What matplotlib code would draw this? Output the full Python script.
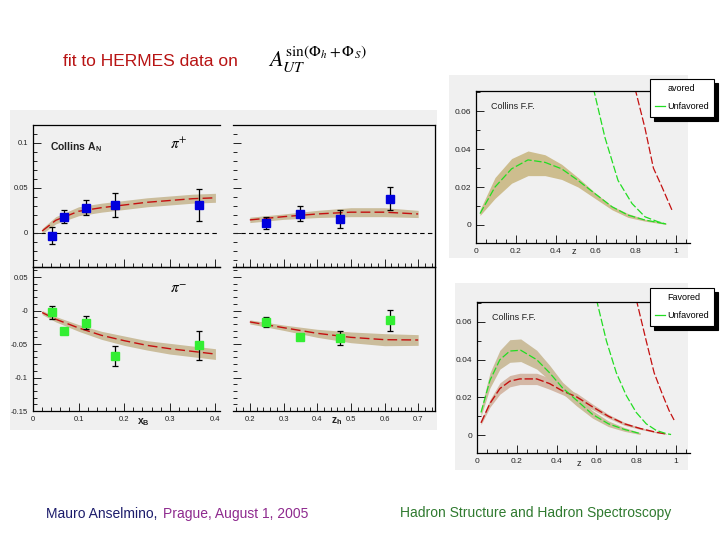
import matplotlib
matplotlib.use("Agg")
import matplotlib.pyplot as plt
from matplotlib.patches import Rectangle
from matplotlib.lines import Line2D
from matplotlib.ticker import MultipleLocator, FuncFormatter
import numpy as np

plt.rcParams['font.family'] = ['Liberation Sans', 'DejaVu Sans']
plt.rcParams['mathtext.fontset'] = 'stix'
plt.rcParams['axes.unicode_minus'] = False

# HERMES data points, vs x_B and z_h
xb = [0.041, 0.069, 0.117, 0.18, 0.365]
zh = [0.248, 0.349, 0.467, 0.617]
pip_xb = [-0.003, 0.018, 0.028, 0.031, 0.031]
pip_xb_err = [0.009, 0.007, 0.008, 0.013, 0.018]
pip_zh = [0.011, 0.0215, 0.015, 0.038]
pip_zh_err = [0.007, 0.008, 0.010, 0.013]
pim_xb = [-0.0025, -0.030, -0.018, -0.068, -0.052]
pim_xb_err = [0.010, 0.003, 0.010, 0.015, 0.022]
pim_zh = [-0.017, -0.039, -0.041, -0.0145]
pim_zh_err = [0.007, 0.003, 0.011, 0.016]

# fits
fit_x = [0.02, 0.05, 0.1, 0.15, 0.2, 0.25, 0.3, 0.35, 0.4]
fit_pip_x = [0.002, 0.014, 0.024, 0.028, 0.031, 0.034, 0.036, 0.038, 0.039]
band_pip_x = [0.003, 0.004, 0.005, 0.005, 0.005, 0.005, 0.005, 0.005, 0.005]
fit_pim_x = [-0.003, -0.013, -0.026, -0.037, -0.045, -0.052, -0.057, -0.061, -0.065]
band_pim_x = [0.003, 0.004, 0.005, 0.006, 0.007, 0.007, 0.008, 0.008, 0.008]
fit_z = [0.2, 0.3, 0.4, 0.5, 0.6, 0.7]
fit_pip_z = [0.0144, 0.018, 0.021, 0.023, 0.023, 0.021]
band_pip_z = [0.003, 0.003, 0.004, 0.005, 0.005, 0.004]
fit_pim_z = [-0.017, -0.0256, -0.034, -0.040, -0.0435, -0.044]
band_pim_z = [0.003, 0.004, 0.006, 0.008, 0.009, 0.008]

# Collins fragmentation functions, upper plot
ffu_z = [0.02, 0.095, 0.178, 0.26, 0.345, 0.428, 0.51, 0.595, 0.68, 0.76, 0.845, 0.95]
ffu_unf = [0.006, 0.020, 0.0296, 0.0343, 0.033, 0.0296, 0.0235, 0.0165, 0.0096, 0.0052, 0.0026, 0.0005]
ffu_unf_hi = [0.008, 0.025, 0.035, 0.039, 0.037, 0.032, 0.025, 0.017, 0.010, 0.006, 0.003, 0.001]
ffu_unf_lo = [0.005, 0.014, 0.022, 0.026, 0.026, 0.024, 0.020, 0.014, 0.008, 0.004, 0.002, 0.0003]
bndu_unf_z = [0.587, 0.645, 0.71, 0.78, 0.845, 0.91, 0.95]
bndu_unf = [0.072, 0.046, 0.0235, 0.0113, 0.0043, 0.0017, 0.0005]
bndu_fav_z = [0.795, 0.845, 0.887, 0.93, 0.98]
bndu_fav = [0.072, 0.051, 0.030, 0.020, 0.0078]

# lower plot
ffl_z = [0.02, 0.065, 0.115, 0.165, 0.22, 0.30, 0.365, 0.43, 0.50, 0.58, 0.66, 0.74, 0.82]
ffl_unf = [0.012, 0.029, 0.040, 0.0446, 0.045, 0.040, 0.033, 0.025, 0.0185, 0.011, 0.006, 0.003, 0.0008]
ffl_unf_err = [0.002, 0.004, 0.005, 0.006, 0.006, 0.005, 0.004, 0.003, 0.003, 0.002, 0.0015, 0.001, 0.0005]
ffl_fav_z = [0.02, 0.065, 0.115, 0.165, 0.215, 0.30, 0.365, 0.43, 0.50, 0.58, 0.66, 0.74, 0.82, 0.90, 0.95]
ffl_fav = [0.0065, 0.0168, 0.0247, 0.0286, 0.0298, 0.0298, 0.0273, 0.0234, 0.0203, 0.015, 0.010, 0.006, 0.0035, 0.0015, 0.0006]
ffl_fav_err = [0.001, 0.002, 0.003, 0.003, 0.003, 0.003, 0.003, 0.002, 0.002, 0.0015, 0.001, 0.0008, 0.0005, 0.0003, 0.0002]
bndl_unf_z = [0.60, 0.65, 0.70, 0.75, 0.80, 0.85, 0.90, 0.95, 0.975]
bndl_unf = [0.072, 0.050, 0.033, 0.021, 0.012, 0.006, 0.0025, 0.0008, 0.0003]
bndl_fav_z = [0.80, 0.85, 0.89, 0.93, 0.965, 0.99]
bndl_fav = [0.072, 0.050, 0.033, 0.022, 0.013, 0.008]

bot_yticks = [-0.15, -0.1, -0.05, 0, 0.05]
bot_ylabels = ['-0.15', '-0.1', '-0.05', '-0', '0.05']

W, H = 720, 540
BAND = '#cbbd9c'
RED = '#c41010'
GREEN = '#22dd22'
BG = '#f0f0f0'


def rect(x0, y0, x1, y1):
    return [x0 / W, 1 - y1 / H, (x1 - x0) / W, (y1 - y0) / H]


fmt = FuncFormatter(lambda v, p: '%g' % round(v, 4))

fig = plt.figure(figsize=(7.2, 5.4), dpi=100)
fig.patch.set_facecolor('white')
for r in [rect(10, 110, 437, 430), rect(449, 75, 688, 258), rect(455, 283, 688, 470)]:
    fig.patches.append(Rectangle((r[0], r[1]), r[2], r[3], transform=fig.transFigure,
                                 facecolor=BG, edgecolor='none', zorder=-10))


def style(ax):
    ax.set_zorder(1)
    ax.patch.set_alpha(0)
    ax.tick_params(which='both', direction='in', labelsize=5.5, colors='#222222', width=0.7)
    ax.tick_params(which='major', length=6)
    ax.tick_params(which='minor', length=3)
    for s in ax.spines.values():
        s.set_linewidth(0.9)


ax_tl = fig.add_axes(rect(33, 125, 220, 267))
ax_tr = fig.add_axes(rect(233, 125, 435, 267))
ax_bl = fig.add_axes(rect(33, 267, 220, 411))
ax_br = fig.add_axes(rect(233, 267, 435, 411))

panels = [
    (ax_tl, fit_x, fit_pip_x, band_pip_x, xb, pip_xb, pip_xb_err, '#0000dd'),
    (ax_tr, fit_z, fit_pip_z, band_pip_z, zh, pip_zh, pip_zh_err, '#0000dd'),
    (ax_bl, fit_x, fit_pim_x, band_pim_x, xb, pim_xb, pim_xb_err, '#33ee33'),
    (ax_br, fit_z, fit_pim_z, band_pim_z, zh, pim_zh, pim_zh_err, '#33ee33'),
]
for ax, fx, fy, fb, px, py, pe, col in panels:
    style(ax)
    fx = np.array(fx); fy = np.array(fy); fb = np.array(fb)
    ax.fill_between(fx, fy - fb, fy + fb, color=BAND, lw=0, zorder=1)
    ax.plot(fx, fy, color=RED, lw=1.0, dashes=(7, 3), zorder=2)
    ax.errorbar(px, py, yerr=pe, fmt='s', color=col, ms=5.5, mec=col,
                ecolor='black', elinewidth=0.9, capsize=2, capthick=0.9, zorder=3)
    ax.spines['right'].set_visible(False)

for ax in (ax_tl, ax_bl):
    ax.set_xlim(0, 0.41)
    ax.xaxis.set_major_locator(MultipleLocator(0.1))
    ax.xaxis.set_minor_locator(MultipleLocator(0.02))
for ax in (ax_tr, ax_br):
    ax.set_xlim(0.15, 0.75)
    ax.xaxis.set_major_locator(MultipleLocator(0.1))
    ax.xaxis.set_minor_locator(MultipleLocator(0.02))
    ax.spines['left'].set_visible(False)
    ax.spines['right'].set_visible(True)
for ax in (ax_tl, ax_tr):
    ax.set_ylim(-0.038, 0.12)
    ax.yaxis.set_major_locator(MultipleLocator(0.05))
    ax.yaxis.set_minor_locator(MultipleLocator(0.01))
    ax.axhline(0, color='black', lw=0.8, ls=(0, (4, 3)), zorder=1.5)
    ax.tick_params(labelbottom=False)
for ax in (ax_bl, ax_br):
    ax.set_ylim(-0.15, 0.065)
    ax.set_yticks(bot_yticks)
    ax.yaxis.set_minor_locator(MultipleLocator(0.01))
    ax.xaxis.set_major_formatter(fmt)
ax_tl.yaxis.set_major_formatter(fmt)
ax_bl.set_yticklabels(bot_ylabels)
ax_tr.tick_params(labelleft=False)
ax_br.tick_params(labelleft=False)

ax_tl.text(0.09, 0.82, r'Collins A$_\mathregular{N}$', transform=ax_tl.transAxes,
           fontsize=7.5, fontweight='bold', color='#222222')
ax_tl.text(0.73, 0.83, r'$\pi^{+}$', transform=ax_tl.transAxes, fontsize=11)
ax_bl.text(0.73, 0.82, r'$\pi^{-}$', transform=ax_bl.transAxes, fontsize=11)
fig.text(143 / W, 1 - 422 / H, r'x$_\mathregular{B}$', fontsize=7.5, fontweight='bold',
         ha='center', va='center', color='#222222')
fig.text(337 / W, 1 - 421 / H, r'z$_\mathregular{h}$', fontsize=7.5, fontweight='bold',
         ha='center', va='center', color='#222222')

# fragmentation function plots
ff_u = fig.add_axes(rect(476, 91, 690, 243))
ff_l = fig.add_axes(rect(477, 302, 690, 453))
for ax in (ff_u, ff_l):
    style(ax)
    ax.set_xlim(0, 1.07)
    ax.set_ylim(-0.0095, 0.0706)
    ax.xaxis.set_major_locator(MultipleLocator(0.2))
    ax.xaxis.set_minor_locator(MultipleLocator(0.05))
    ax.yaxis.set_major_locator(MultipleLocator(0.02))
    ax.yaxis.set_minor_locator(MultipleLocator(0.01))
    ax.xaxis.set_major_formatter(fmt)
    ax.yaxis.set_major_formatter(fmt)
    ax.tick_params(labelsize=6)
    ax.spines['right'].set_visible(False)
    ax.text(0.07, 0.88, 'Collins F.F.', transform=ax.transAxes, fontsize=6.5, color='#222222')

ff_u.fill_between(ffu_z, ffu_unf_lo, ffu_unf_hi, color='#cdbd8e', lw=0, zorder=1)
ff_u.plot(ffu_z, ffu_unf, color=GREEN, lw=0.9, dashes=(6, 2), zorder=2)
ff_u.plot(bndu_unf_z, bndu_unf, color=GREEN, lw=0.9, dashes=(6, 2), zorder=2)
ff_u.plot(bndu_fav_z, bndu_fav, color=RED, lw=0.9, dashes=(6, 2), zorder=2)
fig.text(574 / W, 1 - 252 / H, 'z', fontsize=6.5, ha='center', va='center', color='#222222')

uf = np.array(ffl_unf); ue = np.array(ffl_unf_err)
fv = np.array(ffl_fav); fe = np.array(ffl_fav_err)
ff_l.fill_between(ffl_fav_z, fv - fe, fv + fe, color='#d4b8a6', lw=0, zorder=1)
ff_l.fill_between(ffl_z, uf - ue, uf + ue, color=BAND, lw=0, zorder=1.2)
ff_l.plot(ffl_fav_z, ffl_fav, color=RED, lw=1.0, dashes=(6, 2), zorder=2)
ff_l.plot(ffl_z, ffl_unf, color=GREEN, lw=0.9, dashes=(6, 2), zorder=2)
ff_l.plot(bndl_unf_z, bndl_unf, color=GREEN, lw=0.9, dashes=(6, 2), zorder=2)
ff_l.plot(bndl_fav_z, bndl_fav, color=RED, lw=0.9, dashes=(6, 2), zorder=2)
fig.text(579 / W, 1 - 463 / H, 'z', fontsize=6.5, ha='center', va='center', color='#222222')

for ax, top, lab in ((ff_u, 79, 'avored'), (ff_l, 288, 'Favored')):
    h = [Line2D([], [], color='none'), Line2D([], [], color=GREEN, lw=0.9)]
    leg = ax.legend(h, [lab, 'Unfavored'], loc='upper left',
                    bbox_to_anchor=(650 / W, 1 - top / H), bbox_transform=fig.transFigure,
                    fontsize=6.5, frameon=True, fancybox=False, edgecolor='black',
                    facecolor='white', framealpha=1, borderaxespad=0, borderpad=0.6,
                    handlelength=1.1, handletextpad=0.2, labelspacing=1.0,
                    shadow={'color': 'black', 'alpha': 1, 'ox': 3, 'oy': -3})
    leg.get_frame().set_linewidth(0.8)
    leg.set_zorder(5)

# slide texts
fig.text(63 / W, 1 - 61 / H, 'fit to HERMES data on', fontsize=12.5, color='#b81414',
         va='center')
fig.text(268 / W, 1 - 60 / H, r'$A_{UT}^{\sin(\Phi_h+\Phi_S)}$', fontsize=16, va='center',
         color='black')
fig.text(46 / W, 1 - 514 / H, 'Mauro Anselmino, ', fontsize=10, color='#1c1c6b', va='center')
fig.text(163 / W, 1 - 514 / H, 'Prague, August 1, 2005', fontsize=10, color='#8e2a8e',
         va='center')
fig.text(400 / W, 1 - 513 / H, 'Hadron Structure and Hadron Spectroscopy', fontsize=10,
         color='#2f7a2f', va='center')

fig.savefig('out.png', dpi=100)
